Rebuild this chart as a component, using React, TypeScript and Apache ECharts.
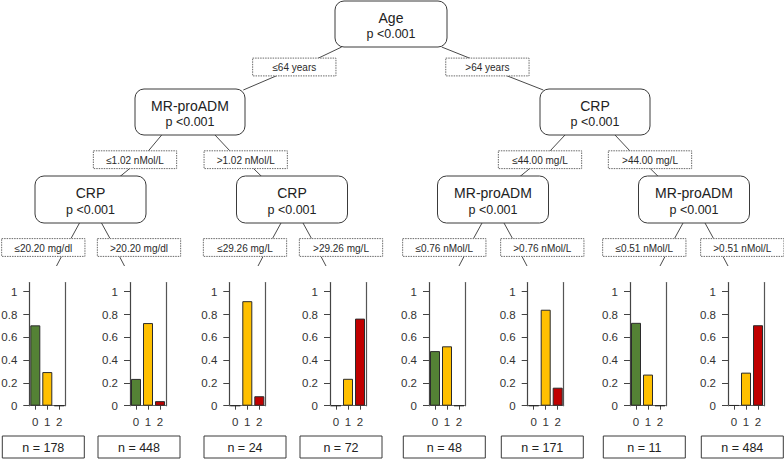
import React, { useEffect, useRef } from 'react';
import * as echarts from 'echarts';

// ---------------- DATA ----------------
const splitVariables = ['Age', 'MR-proADM', 'CRP', 'CRP', 'CRP', 'MR-proADM', 'MR-proADM'];
const splitPValues = ['p <0.001', 'p <0.001', 'p <0.001', 'p <0.001', 'p <0.001', 'p <0.001', 'p <0.001'];
const edgeLabels = [
  '≤64 years', '>64 years',
  '≤1.02 nMol/L', '>1.02 nMol/L', '≤44.00 mg/L', '>44.00 mg/L',
  '≤20.20 mg/dl', '>20.20 mg/dl', '≤29.26 mg/L', '>29.26 mg/L',
  '≤0.76 nMol/L', '>0.76 nMol/L', '≤0.51 nMol/L', '>0.51 nMol/L',
];
const terminalN = [178, 448, 24, 72, 48, 171, 11, 484];
const classCategories = ['0', '1', '2'];
const class0Share = [0.705, 0.235, 0, 0, 0.479, 0, 0.727, 0.004];
const class1Share = [0.295, 0.725, 0.917, 0.236, 0.521, 0.842, 0.273, 0.29];
const class2Share = [0, 0.04, 0.083, 0.764, 0, 0.158, 0, 0.706];
const yTickValues = [0, 0.2, 0.4, 0.6, 0.8, 1];

// ---------------- LAYOUT ----------------
const FONT = '"Liberation Sans", Arial, sans-serif';
const CLASS_COLORS = ['#548235', '#FFC000', '#C00000'];

const INNER_BOXES = [
  { cx: 391, top: 1, w: 112, h: 46 },
  { cx: 190, top: 89, w: 110, h: 46 },
  { cx: 595, top: 89, w: 110, h: 46 },
  { cx: 90.5, top: 176, w: 111, h: 47 },
  { cx: 292, top: 176, w: 111, h: 47 },
  { cx: 493, top: 176, w: 111, h: 47 },
  { cx: 694, top: 176, w: 111, h: 47 },
];

type Seg = [number, number, number, number];
const L3_PARENTS = [90.5, 292, 493, 694];
function l3Segs(c: number, s: number): Seg[] {
  return [
    [c + s * 11, 223, c + s * 19.5, 238.5],
    [c + s * 29, 256.5, c + s * 34, 266],
  ];
}
const TERM_CX = [43.3, 139, 245, 341, 444.3, 542.3, 644.3, 742.3];
const EDGE_LAYOUT: { lx: number; ly: number; segs: Seg[] }[] = [
  { lx: 294.3, ly: 67, segs: [[341.7, 47, 318, 58.3], [276.7, 75.7, 243.3, 90]] },
  { lx: 487.4, ly: 67, segs: [[441.7, 47, 470, 58.3], [506.7, 75.7, 543.3, 90]] },
  { lx: 135, ly: 159.7, segs: [[161.7, 135, 148.3, 151], [130, 168.3, 120, 176.5]] },
  { lx: 245.7, ly: 159.7, segs: [[215, 135, 230, 151], [253.3, 168.3, 261.7, 176.5]] },
  { lx: 540, ly: 159.7, segs: [[565, 135, 550, 151], [530, 168.3, 520, 176.5]] },
  { lx: 650, ly: 159.7, segs: [[615, 135, 630, 151], [650, 168.3, 658.3, 176.5]] },
  ...TERM_CX.map((lx, i) => ({
    lx,
    ly: 247.5,
    segs: l3Segs(L3_PARENTS[Math.floor(i / 2)], i % 2 === 0 ? -1 : 1),
  })),
];
const PANEL_AXIS_X = [29.3, 130, 229.3, 330, 429, 527.7, 630, 728];
const PANEL_TOP = 282.6;
const PANEL_H = 123.1;
const PANEL_W = 36;

function buildOption(): any {
  const graphic: any[] = [];
  // edge lines
  EDGE_LAYOUT.forEach((e) => {
    e.segs.forEach((s) => {
      graphic.push({
        type: 'line',
        shape: { x1: s[0], y1: s[1], x2: s[2], y2: s[3] },
        style: { stroke: '#4a4a4a', lineWidth: 1 },
        z: 1,
      });
    });
  });
  // inner nodes
  INNER_BOXES.forEach((b, i) => {
    graphic.push({
      type: 'rect',
      shape: { x: b.cx - b.w / 2, y: b.top, width: b.w, height: b.h, r: 9 },
      style: { fill: '#fff', stroke: '#3a3a3a', lineWidth: 1 },
      z: 2,
    });
    const cy = b.top + b.h / 2;
    graphic.push({
      type: 'text',
      style: {
        text: splitVariables[i], x: b.cx, y: cy - 6.5, align: 'center', verticalAlign: 'middle',
        fontSize: 14, fontFamily: FONT, fill: '#222',
      },
      z: 3,
    });
    graphic.push({
      type: 'text',
      style: {
        text: splitPValues[i], x: b.cx, y: cy + 10, align: 'center', verticalAlign: 'middle',
        fontSize: 12.5, fontFamily: FONT, fill: '#222',
      },
      z: 3,
    });
  });
  // edge labels
  EDGE_LAYOUT.forEach((e, i) => {
    const w = 83.3;
    const h = 17.8;
    graphic.push({
      type: 'rect',
      shape: { x: e.lx - w / 2, y: e.ly - h / 2, width: w, height: h },
      style: { fill: '#fff', stroke: '#6a6a6a', lineWidth: 1, lineDash: [1.5, 1] },
      z: 2,
    });
    graphic.push({
      type: 'text',
      style: {
        text: edgeLabels[i], x: e.lx, y: e.ly + 0.5, align: 'center', verticalAlign: 'middle',
        fontSize: 10, fontFamily: FONT, fill: '#2a2a2a',
      },
      z: 3,
    });
  });
  // n boxes
  TERM_CX.forEach((cx, i) => {
    graphic.push({
      type: 'rect',
      shape: { x: cx - 41, y: 436, width: 82, height: 22 },
      style: { fill: '#fff', stroke: '#3a3a3a', lineWidth: 1 },
      z: 2,
    });
    graphic.push({
      type: 'text',
      style: {
        text: 'n = ' + terminalN[i], x: cx, y: 447.5, align: 'center', verticalAlign: 'middle',
        fontSize: 12.5, fontFamily: FONT, fill: '#222',
      },
      z: 3,
    });
  });

  const grid: any[] = [];
  const xAxis: any[] = [];
  const yAxis: any[] = [];
  const series: any[] = [];
  PANEL_AXIS_X.forEach((ax, i) => {
    grid.push({ left: ax, top: PANEL_TOP, width: PANEL_W, height: PANEL_H, containLabel: false, outerBoundsMode: 'none' });
    xAxis.push({
      gridIndex: i,
      type: 'category',
      data: classCategories,
      axisLine: { show: true, onZero: false, lineStyle: { color: '#666', width: 1 } },
      axisTick: { show: true, alignWithLabel: true, length: 4, lineStyle: { color: '#444' } },
      axisLabel: { margin: 10, fontSize: 11.5, color: '#333', fontFamily: FONT },
      splitLine: { show: false },
    });
    yAxis.push({
      gridIndex: i,
      type: 'value',
      position: 'left',
      min: 0,
      max: 1.08,
      interval: 0.2,
      axisLine: { show: true, lineStyle: { color: '#444', width: 1.2 } },
      axisTick: { show: true, length: 6, customValues: yTickValues, lineStyle: { color: '#444' } },
      axisLabel: { customValues: yTickValues, margin: 12, fontSize: 11.5, color: '#333', fontFamily: FONT },
      splitLine: { show: false },
    });
    yAxis.push({
      gridIndex: i,
      type: 'value',
      position: 'right',
      min: 0,
      max: 1.08,
      axisLine: { show: true, lineStyle: { color: '#555', width: 1.2 } },
      axisTick: { show: false },
      axisLabel: { show: false },
      splitLine: { show: false },
    });
    series.push({
      type: 'bar',
      xAxisIndex: i,
      yAxisIndex: i * 2,
      barWidth: 10,
      data: [class0Share[i], class1Share[i], class2Share[i]].map((v, k) => ({
        value: v,
        itemStyle: { color: CLASS_COLORS[k] },
      })),
      itemStyle: { borderColor: '#2b2b2b', borderWidth: 1 },
      silent: true,
    });
  });

  return {
    animation: false,
    backgroundColor: '#fff',
    textStyle: { fontFamily: FONT },
    grid,
    xAxis,
    yAxis,
    series,
    graphic,
  };
}

export default function App() {
  const ref = useRef<HTMLDivElement>(null);
  useEffect(() => {
    if (!ref.current) return;
    const chart = echarts.init(ref.current, undefined, { renderer: 'svg' });
    chart.setOption(buildOption());
    return () => chart.dispose();
  }, []);
  return (
    <div
      ref={ref}
      style={{ position: 'absolute', left: 0, top: 0, width: 784, height: 460 }}
    />
  );
}
